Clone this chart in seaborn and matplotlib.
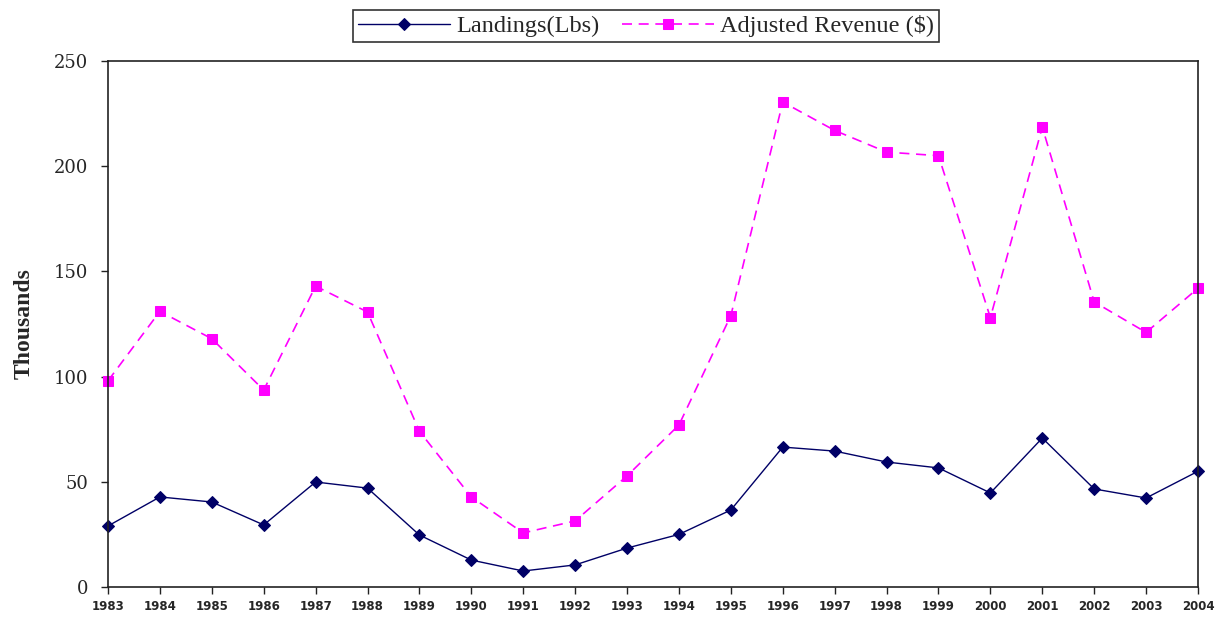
import matplotlib
matplotlib.use("Agg")
import matplotlib.pyplot as plt
import seaborn as sns
import pandas as pd

years = list(range(1983, 2005))
landings = [29, 42.8, 40.4, 29.5, 49.9, 47, 24.7, 12.8, 7.6, 10.5, 18.5,
            25, 36.6, 66.5, 64.6, 59.4, 56.6, 44.7, 70.8, 46.6, 42.3, 55]
revenue = [98, 131, 118, 93.6, 143, 130.7, 74, 42.8, 25.7, 31.4, 52.8,
           77, 129, 230.5, 217, 206.7, 205, 128, 218.6, 135.5, 121, 142]
y_ticks = [0, 50, 100, 150, 200, 250]

sns.set_style("white")
plt.rcParams["font.family"] = ["Liberation Serif", "DejaVu Serif"]

df = pd.DataFrame({"Year": years, "Landings": landings, "Revenue": revenue})

fig = plt.figure(figsize=(12.27, 6.17), dpi=100)
ax = fig.add_axes([108 / 1227, 1 - 587 / 617, (1198 - 108) / 1227, (587 - 61) / 617])

sns.lineplot(data=df, x="Year", y="Landings", ax=ax, color="#000066",
             linewidth=1.0, marker="D", markersize=6, markeredgecolor="#000066",
             label="Landings(Lbs)", clip_on=False)
sns.lineplot(data=df, x="Year", y="Revenue", ax=ax, color="#FF00FF",
             linewidth=1.2, marker="s", markersize=7, markeredgecolor="#FF00FF",
             linestyle=(0, (6, 4)), label="Adjusted Revenue ($)", clip_on=False)

ax.set_xlim(1983, 2004)
ax.set_ylim(0, 250)
ax.set_xticks(years)
ax.set_xticklabels([str(y) for y in years], fontfamily="DejaVu Sans",
                   fontsize=8.5, fontweight="bold")
ax.set_yticks(y_ticks)
ax.set_yticklabels([str(v) for v in y_ticks], fontfamily="DejaVu Serif",
                   fontsize=13)
ax.tick_params(axis="both", direction="out", length=5, width=1, color="#222222",
               left=True, bottom=True)
ax.tick_params(axis="y", pad=9)
ax.tick_params(axis="x", pad=4)
ax.set_xlabel("")
ax.set_ylabel("Thousands", fontsize=17, fontweight="bold")
ax.yaxis.set_label_coords(-0.067, 0.5)
for s in ax.spines.values():
    s.set_color("#222222")
    s.set_linewidth(1.2)

ax.get_legend().remove()
handles, labels = ax.get_legend_handles_labels()
leg = fig.legend(handles, labels, loc="center", ncol=2,
                 bbox_to_anchor=(646 / 1227, 1 - 26 / 617), fontsize=17.5,
                 frameon=True, fancybox=False, edgecolor="black",
                 handlelength=3.8, columnspacing=0.9, handletextpad=0.25,
                 borderpad=0.2, borderaxespad=0)
leg.get_frame().set_linewidth(1.2)

fig.savefig("out.png", dpi=100, facecolor="white")
